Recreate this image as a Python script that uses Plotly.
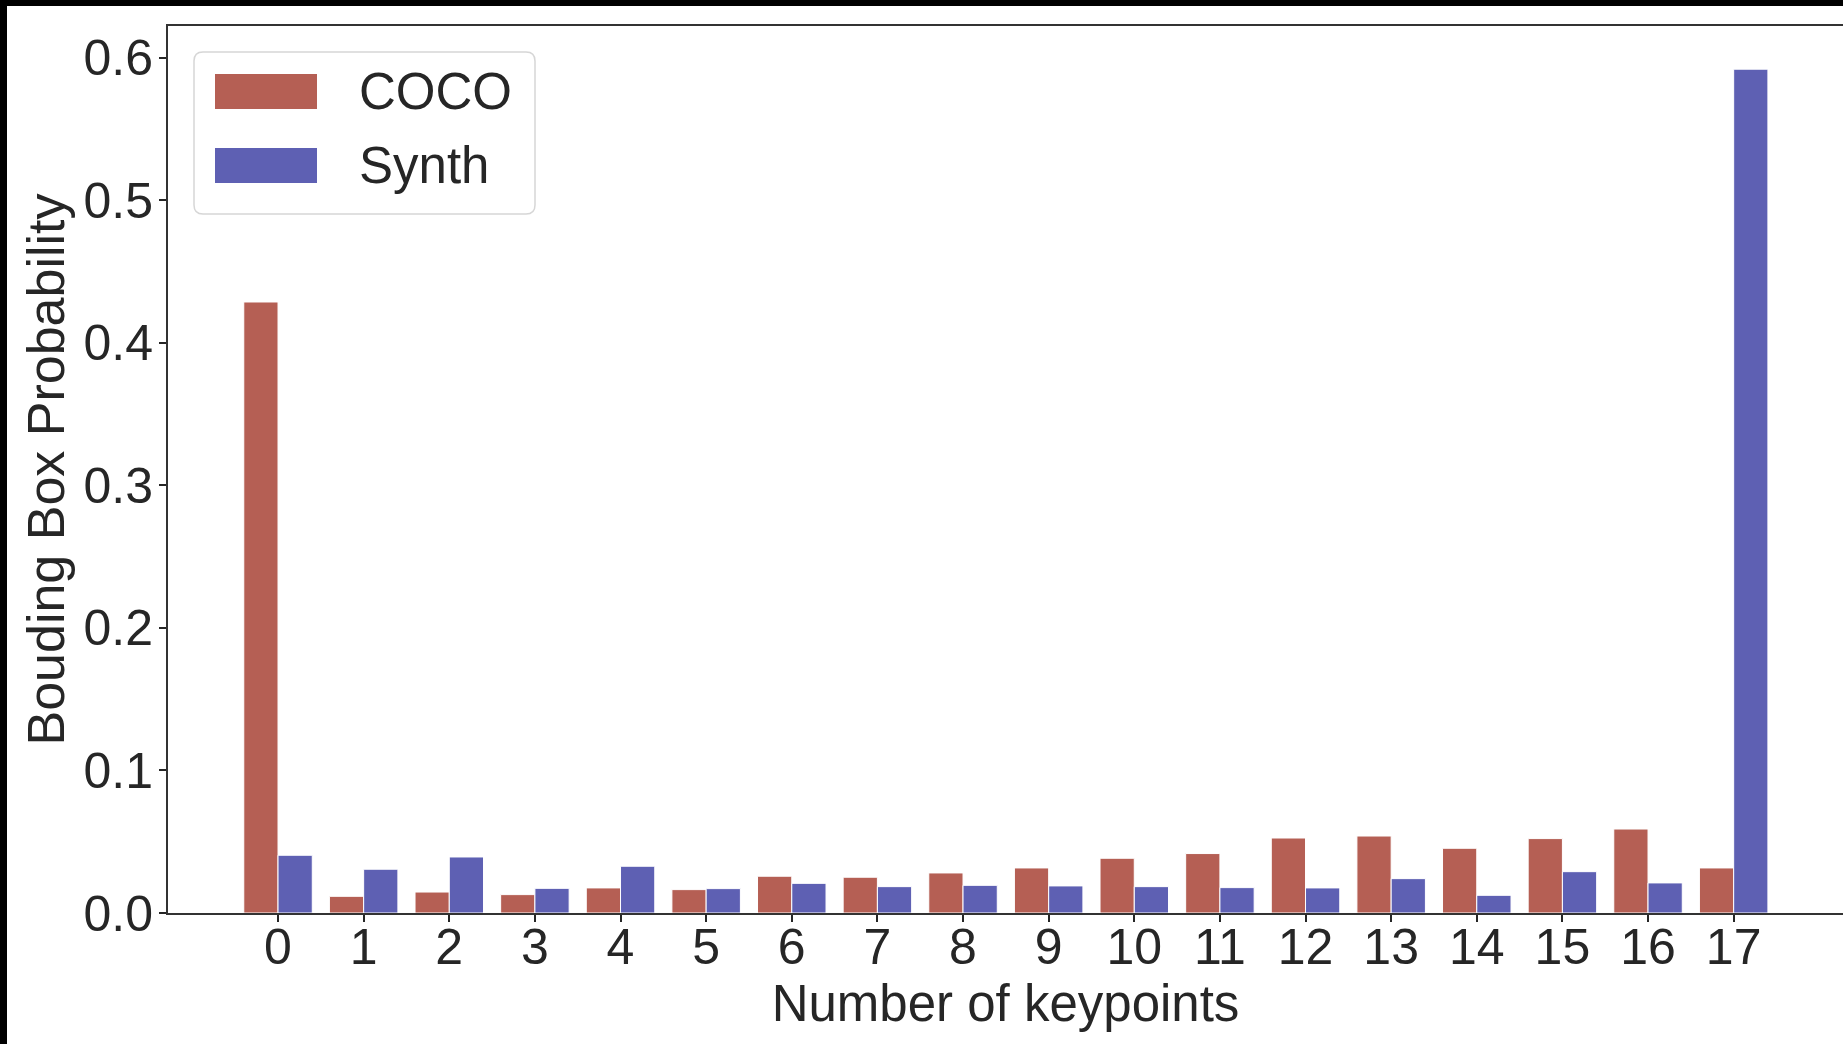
import plotly.graph_objects as go

# Share of bounding boxes by number of visible keypoints
keypoints = list(range(18))
tick_labels = [str(k) for k in keypoints]
coco = [0.4286, 0.0117, 0.0147, 0.0129, 0.0176, 0.0164, 0.0258, 0.0251, 0.0281,
        0.0316, 0.0384, 0.0417, 0.0526, 0.0540, 0.0454, 0.0522, 0.0589, 0.0316]
synth = [0.0405, 0.0307, 0.0393, 0.0173, 0.0328, 0.0171, 0.0208, 0.0185, 0.0194,
         0.0190, 0.0185, 0.0178, 0.0176, 0.0241, 0.0124, 0.0290, 0.0211, 0.5919]
series_names = ["COCO", "Synth"]

RED = "#b55f54"
BLUE = "#5e60b3"
TEXT = "#262626"
FONT = "Arial, Liberation Sans, sans-serif"

W, H = 1843, 1044
ML, MR, MT, MB = 168, 0, 26, 131


def px_x(px):
    return (px - ML) / (W - ML - MR)


def px_y(py):
    return (H - MB - py) / (H - MT - MB)


def rounded_rect(x0, y0, x1, y1, r):
    """Rounded rectangle path given in pixel coordinates, returned in paper units."""
    def P(x, y):
        return f"{px_x(x):.5f},{px_y(y):.5f}"
    parts = [
        f"M {P(x0 + r, y0)}", f"L {P(x1 - r, y0)}", f"Q {P(x1, y0)} {P(x1, y0 + r)}",
        f"L {P(x1, y1 - r)}", f"Q {P(x1, y1)} {P(x1 - r, y1)}",
        f"L {P(x0 + r, y1)}", f"Q {P(x0, y1)} {P(x0, y1 - r)}",
        f"L {P(x0, y0 + r)}", f"Q {P(x0, y0)} {P(x0 + r, y0)}", "Z",
    ]
    return " ".join(parts)


fig = go.Figure()
fig.add_trace(go.Bar(x=keypoints, y=coco, name=series_names[0],
                     marker=dict(color=RED, line=dict(color="white", width=1))))
fig.add_trace(go.Bar(x=keypoints, y=synth, name=series_names[1],
                     marker=dict(color=BLUE, line=dict(color="white", width=1))))

shapes = []
# dark frame along the top and left edges of the image
shapes.append(dict(type="rect", xref="paper", yref="paper",
                   x0=px_x(-5), x1=px_x(W + 5), y0=px_y(6), y1=px_y(-5),
                   fillcolor="black", line=dict(width=0), layer="above"))
shapes.append(dict(type="rect", xref="paper", yref="paper",
                   x0=px_x(-5), x1=px_x(7), y0=px_y(H + 5), y1=px_y(-5),
                   fillcolor="black", line=dict(width=0), layer="above"))

# legend box and swatches
shapes.append(dict(type="path", xref="paper", yref="paper",
                   path=rounded_rect(194, 52, 535, 214, 9),
                   fillcolor="rgba(255,255,255,0.8)",
                   line=dict(color="#d6d6d6", width=1.5), layer="above"))
legend_rows = [(series_names[0], RED, 74, 109), (series_names[1], BLUE, 148, 183)]
annotations = []
for name, col, y0, y1 in legend_rows:
    shapes.append(dict(type="rect", xref="paper", yref="paper",
                       x0=px_x(215), x1=px_x(317), y0=px_y(y1), y1=px_y(y0),
                       fillcolor=col, line=dict(width=0), layer="above"))
    annotations.append(dict(xref="paper", yref="paper", x=px_x(357), y=px_y((y0 + y1) / 2),
                            text=name, showarrow=False, xanchor="left", yanchor="middle",
                            font=dict(family=FONT, size=51, color=TEXT)))

fig.update_layout(
    width=W, height=H,
    margin=dict(l=ML, r=MR, t=MT, b=MB, pad=0),
    paper_bgcolor="white", plot_bgcolor="white",
    barmode="group", bargap=0.2, bargroupgap=0,
    showlegend=False,
    font=dict(family=FONT, color=TEXT),
    shapes=shapes, annotations=annotations,
)

fig.update_xaxes(
    range=[-1.285, 18.277],
    tickmode="array", tickvals=keypoints, ticktext=tick_labels,
    ticks="outside", ticklen=7, tickwidth=1.5, tickcolor=TEXT,
    ticklabelstandoff=-18,
    showline=True, linecolor="#333333", linewidth=2, mirror=True,
    showgrid=False, zeroline=False,
    tickfont=dict(family=FONT, size=50, color=TEXT),
    title=dict(text="Number of keypoints", font=dict(family=FONT, size=51, color=TEXT), standoff=3),
)
fig.update_yaxes(
    range=[0, 0.6222],
    tickvals=[0, 0.1, 0.2, 0.3, 0.4, 0.5, 0.6], tickformat=".1f",
    ticks="outside", ticklen=7, tickwidth=1.5, tickcolor=TEXT,
    ticklabelstandoff=-4,
    showline=True, linecolor="#333333", linewidth=2,
    showgrid=False, zeroline=False,
    tickfont=dict(family=FONT, size=50, color=TEXT),
    title=dict(text="Bouding Box Probability", font=dict(family=FONT, size=52, color=TEXT), standoff=2),
)

fig.write_html("out.html")
